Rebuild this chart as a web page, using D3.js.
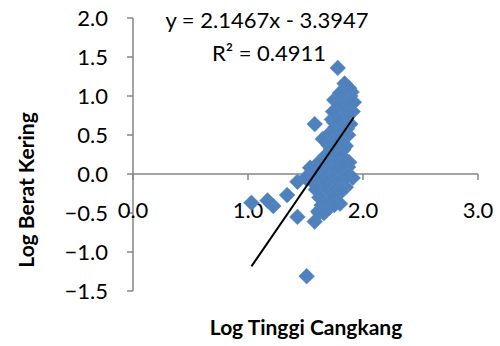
<!DOCTYPE html>
<html>
<head>
<meta charset="utf-8">
<script src="https://cdn.jsdelivr.net/npm/d3@7"></script>
<style>
  body { margin: 0; background: #fff; }
  svg { display: block; font-family: Lato, "Open Sans", sans-serif; }
</style>
</head>
<body>
<svg id="chart" width="500" height="346"></svg>
<script>
// Log shell height (x) vs log dry weight (y)
const logTinggi = [
  1.78, 1.84, 1.90, 1.82, 1.87, 1.77, 1.91, 1.84, 1.75, 1.89,
  1.58, 1.80, 1.71, 1.87, 1.78, 1.70, 1.85, 1.76, 1.67, 1.84,
  1.61, 1.74, 1.87, 1.54, 1.67, 1.80, 1.91, 1.58, 1.71, 1.85,
  1.63, 1.78, 1.67, 1.71, 1.61, 1.58, 1.43, 1.43, 1.34, 1.22,
  1.17, 1.03, 1.51, 1.80, 1.73, 1.65, 1.76, 1.82, 1.69, 1.60,
  1.73, 1.80, 1.64, 1.75, 1.56, 1.68, 1.62, 1.88, 1.79, 1.72,
  1.86, 1.89, 1.80, 1.84, 1.88, 1.79, 1.83, 1.88, 1.76, 1.81,
  1.85, 1.76, 1.83, 1.74, 1.79, 1.83, 1.73, 1.77, 1.82, 1.72,
  1.78, 1.83, 1.70, 1.75, 1.80, 1.64, 1.68, 1.77, 1.82, 1.59,
  1.63, 1.72, 1.76, 1.50, 1.62, 1.66, 1.74, 1.84, 1.56, 1.68,
  1.78, 1.59, 1.70, 1.76, 1.81, 1.62, 1.74, 1.64, 1.68, 1.75,
  1.62, 1.66, 1.88, 1.80, 1.92, 1.78, 1.74, 1.86
];
const logBerat = [
  1.36, 1.16, 1.05, 0.94, 0.89, 0.82, 0.80, 0.75, 0.66, 0.64,
  0.64, 0.59, 0.52, 0.50, 0.43, 0.37, 0.36, 0.28, 0.23, 0.20,
  0.14, 0.12, 0.09, 0.08, 0.03, 0.00, -0.05, -0.08, -0.12, -0.17,
  -0.20, -0.27, -0.33, -0.43, -0.48, -0.61, -0.55, -0.10, -0.27, -0.41,
  -0.34, -0.37, -1.31, 1.00, 0.70, 0.45, 0.55, 0.30, 0.10, -0.02,
  -0.25, -0.38, -0.15, 0.95, -0.05, -0.05, 0.02, 0.15, 0.85, 0.25,
  1.00, 1.00, 0.90, 0.90, 0.90, 0.78, 0.78, 0.78, 0.68, 0.68,
  0.68, 0.60, 0.60, 0.50, 0.50, 0.50, 0.40, 0.40, 0.40, 0.32,
  0.32, 0.32, 0.22, 0.22, 0.22, 0.12, 0.12, 0.12, 0.12, 0.05,
  0.05, 0.05, 0.05, -0.05, -0.05, -0.05, -0.05, -0.05, -0.10, -0.10,
  -0.10, -0.20, -0.20, -0.20, -0.20, -0.30, -0.30, -0.40, -0.40, -0.40,
  -0.50, -0.50, 1.10, 1.04, 0.92, 0.72, 0.80, 0.58
];

const slope = 2.1467;
const intercept = -3.3947;
const rSquared = 0.4911;

const xTicks = [0, 1, 2, 3];
const yTicks = [-1.5, -1.0, -0.5, 0, 0.5, 1.0, 1.5, 2.0];

const points = logTinggi.map((x, i) => ({x, y: logBerat[i]}));

const svg = d3.select("#chart");
const axisColor = "#868686";
const markColor = "#4f81bd";

const xScale = d3.scaleLinear().domain([0, 3]).range([133, 478]);
const yScale = d3.scaleLinear().domain([-1.5, 2]).range([291, 18]);

// Y axis
const yAxis = svg.append("g");
yAxis.append("line")
  .attr("x1", xScale(0)).attr("x2", xScale(0))
  .attr("y1", yScale(-1.5)).attr("y2", yScale(2))
  .attr("stroke", axisColor).attr("stroke-width", 1.5);
yAxis.selectAll(".tick")
  .data(yTicks)
  .join("line")
  .attr("x1", xScale(0) - 6).attr("x2", xScale(0))
  .attr("y1", d => yScale(d)).attr("y2", d => yScale(d))
  .attr("stroke", axisColor).attr("stroke-width", 1.5);
yAxis.selectAll("text")
  .data(yTicks)
  .join("text")
  .attr("x", 108)
  .attr("y", d => yScale(d) + 8)
  .attr("text-anchor", "end")
  .attr("font-size", "22px")
  .attr("fill", "#000")
  .text(d => d3.format(".1f")(d));

// X axis (crosses at y = 0)
const xAxis = svg.append("g");
xAxis.append("line")
  .attr("x1", xScale(0)).attr("x2", xScale(3))
  .attr("y1", yScale(0)).attr("y2", yScale(0))
  .attr("stroke", axisColor).attr("stroke-width", 1.5);
xAxis.selectAll(".tick")
  .data(xTicks)
  .join("line")
  .attr("x1", d => xScale(d)).attr("x2", d => xScale(d))
  .attr("y1", yScale(0)).attr("y2", yScale(0) + 6)
  .attr("stroke", axisColor).attr("stroke-width", 1.5);
xAxis.selectAll("text")
  .data(xTicks)
  .join("text")
  .attr("x", d => xScale(d))
  .attr("y", 218)
  .attr("text-anchor", "middle")
  .attr("font-size", "22px")
  .attr("fill", "#000")
  .text(d => d3.format(".1f")(d));

// Points (diamonds)
const diamond = d3.symbol().type(d3.symbolDiamond2).size(160);
svg.append("g")
  .selectAll("path")
  .data(points)
  .join("path")
  .attr("d", diamond)
  .attr("transform", d => `translate(${xScale(d.x)},${yScale(d.y)})`)
  .attr("fill", markColor)
  .attr("stroke", "#5d8cc6")
  .attr("stroke-width", 0.5);

// Trend line
const xExtent = d3.extent(points, d => d.x);
svg.append("line")
  .attr("x1", xScale(xExtent[0]))
  .attr("y1", yScale(slope * xExtent[0] + intercept))
  .attr("x2", xScale(xExtent[1]))
  .attr("y2", yScale(slope * xExtent[1] + intercept))
  .attr("stroke", "#000")
  .attr("stroke-width", 2);

// Equation
svg.append("text")
  .attr("x", 267).attr("y", 28)
  .attr("text-anchor", "middle")
  .attr("font-size", "22px")
  .text(`y = ${slope}x - ${Math.abs(intercept)}`);
svg.append("text")
  .attr("x", 269).attr("y", 61)
  .attr("text-anchor", "middle")
  .attr("font-size", "22px")
  .text(`R² = ${rSquared}`);

// Axis titles
svg.append("text")
  .attr("x", 306).attr("y", 335)
  .attr("text-anchor", "middle")
  .attr("font-size", "21px")
  .attr("font-weight", "bold")
  .text("Log Tinggi Cangkang");
svg.append("text")
  .attr("transform", "translate(34,190) rotate(-90)")
  .attr("text-anchor", "middle")
  .attr("font-size", "21px")
  .attr("font-weight", "bold")
  .text("Log Berat Kering");
</script>
</body>
</html>
